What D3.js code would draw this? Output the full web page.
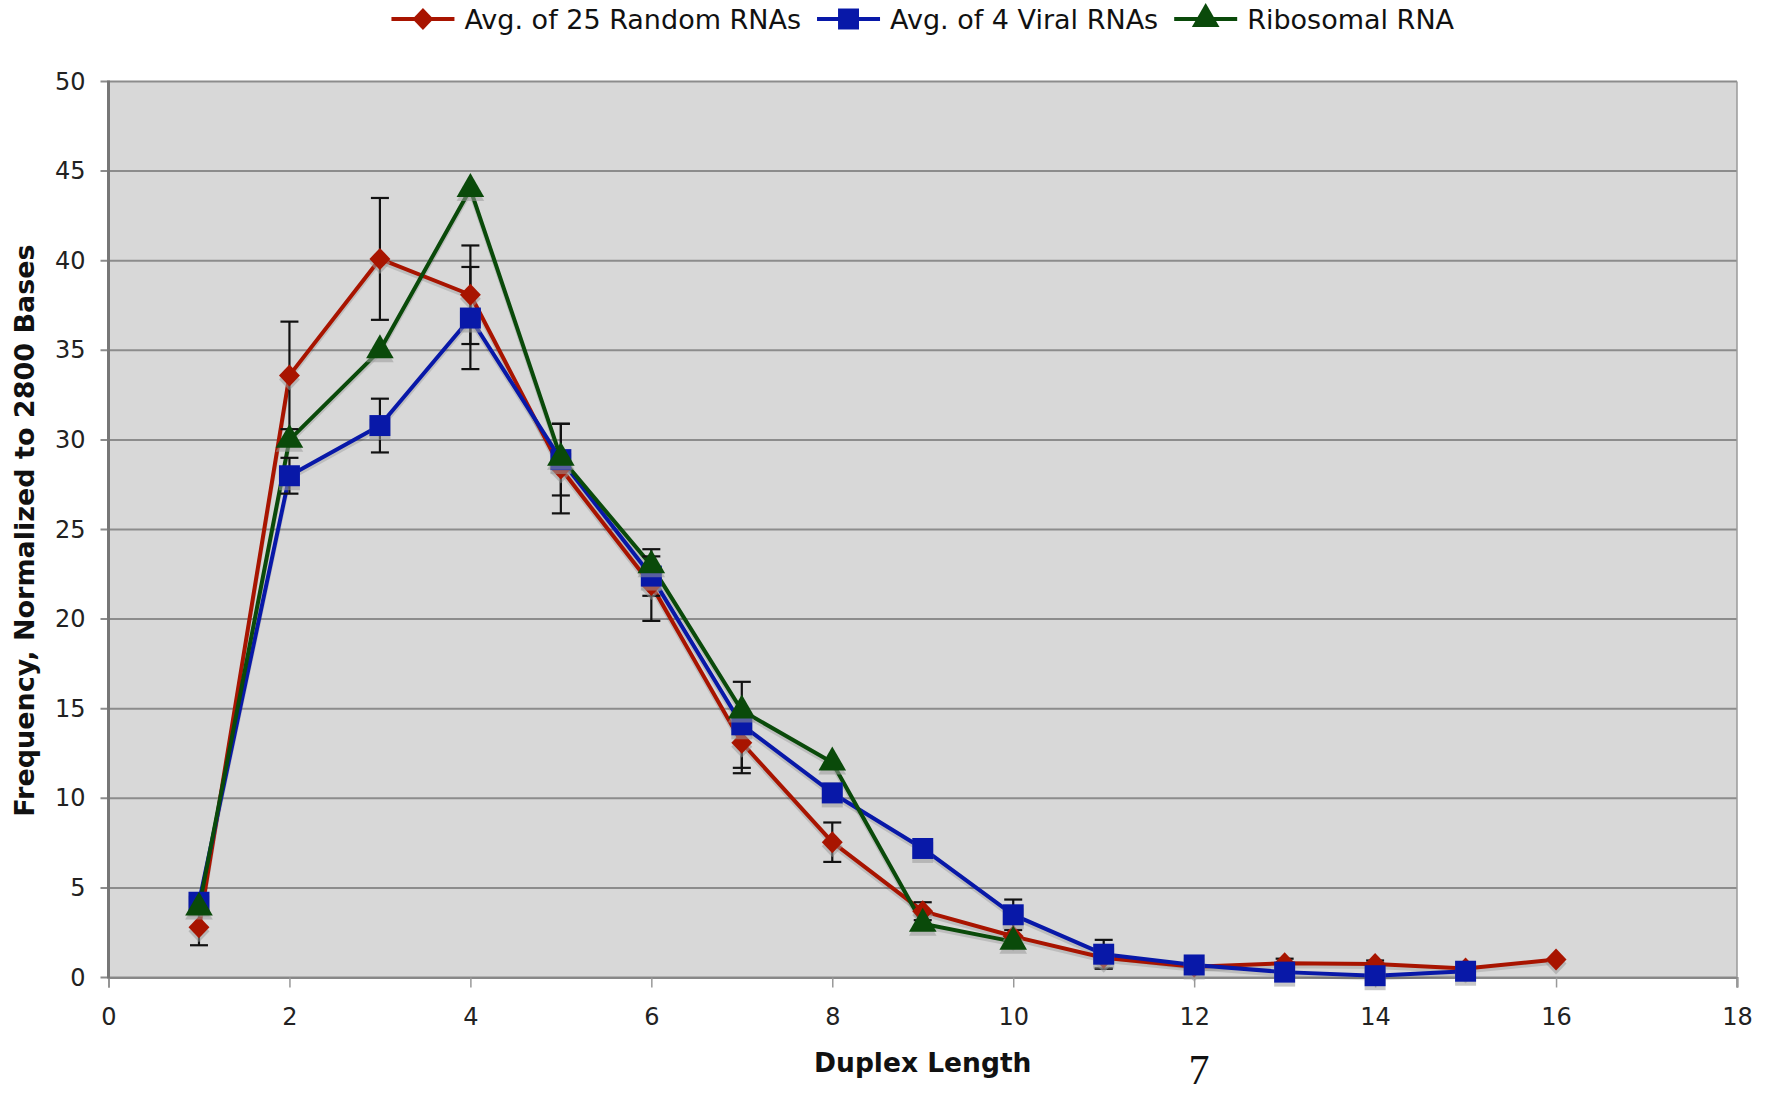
<!DOCTYPE html>
<html>
<head>
<meta charset="utf-8">
<script src="https://cdn.jsdelivr.net/npm/d3@7"></script>
<style>
  html, body { margin: 0; padding: 0; background: #ffffff; }
  svg { display: block; }
</style>
</head>
<body>
<svg id="chart" width="1770" height="1096"></svg>
<script>
// ---- Data ----
const seriesNames = ["Avg. of 25 Random RNAs", "Avg. of 4 Viral RNAs", "Ribosomal RNA"];
const randomX   = [1, 2, 3, 4, 5, 6, 7, 8, 9, 10, 11, 12, 13, 14, 15, 16];
const randomY   = [2.8, 33.6, 40.1, 38.1, 28.4, 21.9, 13.1, 7.55, 3.7, 2.3, 1.1, 0.6, 0.8, 0.75, 0.5, 1.0];
const randomErr = [1.0, 3.0, 3.4, 2.75, 2.5, 2.0, 1.7, 1.1, 0.5, 0, 0.6, 0, 0.25, 0.2, 0.15, 0];
const viralX    = [1, 2, 3, 4, 5, 6, 7, 8, 9, 10, 11, 12, 13, 14, 15];
const viralY    = [4.2, 28.0, 30.8, 36.8, 28.9, 22.4, 14.1, 10.3, 7.2, 3.5, 1.3, 0.7, 0.3, 0.1, 0.35];
const viralErr  = [0.5, 1.0, 1.5, 2.85, 2.0, 1.1, 2.4, 0.5, 0, 0.85, 0.8, 0, 0, 0, 0];
const riboX     = [1, 2, 3, 4, 5, 6, 7, 8, 9, 10];
const riboY     = [3.9, 30.0, 35.0, 44.0, 29.0, 23.0, 14.9, 12.0, 3.0, 2.0];
const xTicks    = [0, 2, 4, 6, 8, 10, 12, 14, 16, 18];
const yTicks    = [0, 5, 10, 15, 20, 25, 30, 35, 40, 45, 50];
const xTitle    = "Duplex Length";
const yTitle    = "Frequency, Normalized to 2800 Bases";
const pageNumber = "7";

const colors  = ["#a81400", "#0818a8", "#0a4a0a"];

// a near-square diamond like the reference
const wideDiamond = {
  draw(ctx, size) {
    const r = Math.sqrt(size / 2.1);
    ctx.moveTo(0, -r * 1.05);
    ctx.lineTo(r, 0);
    ctx.lineTo(0, r * 1.05);
    ctx.lineTo(-r, 0);
    ctx.closePath();
  }
};
const shapes   = [wideDiamond, d3.symbolSquare, d3.symbolTriangle];
const symSizes = [230, 440, 330];

const series = [
  { name: seriesNames[0], pts: randomX.map((x, i) => ({ x, y: randomY[i], e: randomErr[i] })) },
  { name: seriesNames[1], pts: viralX.map((x, i) => ({ x, y: viralY[i], e: viralErr[i] })) },
  { name: seriesNames[2], pts: riboX.map((x, i) => ({ x, y: riboY[i], e: 0 })) }
];

// ---- Layout ----
const L = 108.5, R = 1737, T = 81.5, B = 977.5;
const svg = d3.select("#chart");
const x = d3.scaleLinear().domain([0, 18]).range([L, R]);
const y = d3.scaleLinear().domain([0, 50]).range([B, T]);
const FONT = "'DejaVu Sans', Verdana, sans-serif";

// plot background
svg.append("rect").attr("x", L).attr("y", T).attr("width", R - L).attr("height", B - T)
  .attr("fill", "#d8d8d8");

// y axis labels
const yAxis = d3.axisLeft(y).tickValues(yTicks).tickSize(0).tickPadding(23);
const gy = svg.append("g").attr("transform", `translate(${L},0)`).call(yAxis);
gy.select(".domain").remove();
gy.selectAll("text").attr("font-family", FONT).attr("font-size", 24).attr("fill", "#222");

// gridlines
svg.append("g").selectAll("line").data(yTicks).join("line")
  .attr("x1", L - 8).attr("x2", R)
  .attr("y1", d => y(d)).attr("y2", d => y(d))
  .attr("stroke", "#8c8c8c").attr("stroke-width", 2);

// right border
svg.append("line").attr("x1", R).attr("x2", R).attr("y1", T).attr("y2", B + 10)
  .attr("stroke", "#9a9a9a").attr("stroke-width", 1.5);

// x axis
const xAxis = d3.axisBottom(x).tickValues(xTicks).tickSize(10).tickPadding(20);
const gx = svg.append("g").attr("transform", `translate(0,${B})`).call(xAxis);
gx.select(".domain").attr("stroke", "#888").attr("stroke-width", 2);
gx.selectAll(".tick line").attr("stroke", "#999").attr("stroke-width", 1.5);
gx.selectAll("text").attr("font-family", FONT).attr("font-size", 24).attr("fill", "#222");

// left axis line
svg.append("line").attr("x1", L).attr("x2", L).attr("y1", T - 1).attr("y2", B + 1)
  .attr("stroke", "#777").attr("stroke-width", 3);

// ---- series lines ----
const line = d3.line().x(d => x(d.x)).y(d => y(d.y));
const gLines = svg.append("g");
series.forEach((s, i) => {
  gLines.append("path").datum(s.pts).attr("d", line)
    .attr("fill", "none").attr("stroke", "#000").attr("stroke-opacity", 0.12)
    .attr("stroke-width", 4).attr("transform", "translate(0,3)");
});
series.forEach((s, i) => {
  gLines.append("path").datum(s.pts).attr("d", line)
    .attr("fill", "none").attr("stroke", colors[i]).attr("stroke-width", 4)
    .attr("stroke-linejoin", "round");
});

// ---- error bars ----
const gErr = svg.append("g").attr("stroke", "#111").attr("stroke-width", 2.2);
series.forEach(s => {
  s.pts.filter(d => d.e > 0).forEach(d => {
    const cx = x(d.x), y1 = y(d.y + d.e), y2 = y(d.y - d.e);
    gErr.append("line").attr("x1", cx).attr("x2", cx).attr("y1", y1).attr("y2", y2);
    gErr.append("line").attr("x1", cx - 9).attr("x2", cx + 9).attr("y1", y1).attr("y2", y1);
    gErr.append("line").attr("x1", cx - 9).attr("x2", cx + 9).attr("y1", y2).attr("y2", y2);
  });
});

// ---- markers ----
const gMk = svg.append("g");
series.forEach((s, i) => {
  const sym = d3.symbol().type(shapes[i]).size(symSizes[i]);
  gMk.selectAll(null).data(s.pts).join("path")
    .attr("d", sym).attr("fill", "#9a9a9a").attr("fill-opacity", 0.55)
    .attr("transform", d => `translate(${x(d.x)},${y(d.y) + 4})`);
  gMk.selectAll(null).data(s.pts).join("path")
    .attr("d", sym).attr("fill", colors[i])
    .attr("transform", d => `translate(${x(d.x)},${y(d.y)})`);
});

// ---- axis titles ----
svg.append("text").text(xTitle)
  .attr("x", (L + R) / 2).attr("y", 1072).attr("text-anchor", "middle")
  .attr("font-family", FONT).attr("font-weight", "bold").attr("font-size", 26.5).attr("fill", "#111");
svg.append("text").text(yTitle)
  .attr("transform", `translate(34,${(246 + 815) / 2}) rotate(-90)`).attr("text-anchor", "middle")
  .attr("font-family", FONT).attr("font-weight", "bold").attr("font-size", 27).attr("fill", "#111");

// ---- legend ----
const gLeg = svg.append("g");
const items = [];
series.forEach((s, i) => {
  const g = gLeg.append("g");
  g.append("line").attr("x1", 0).attr("x2", 63).attr("y1", 0).attr("y2", 0)
    .attr("stroke", colors[i]).attr("stroke-width", 4);
  g.append("path").attr("d", d3.symbol().type(shapes[i]).size(symSizes[i])())
    .attr("fill", colors[i]).attr("transform", "translate(31.5,0)");
  const t = g.append("text").text(s.name).attr("x", 73).attr("y", 9.5)
    .attr("font-family", FONT).attr("font-size", 27).attr("fill", "#111");
  const w = 73 + t.node().getComputedTextLength();
  items.push({ g, w });
});
const gap = 16;
const total = d3.sum(items, d => d.w) + gap * (items.length - 1);
let start = (L + R) / 2 - total / 2;
items.forEach(it => {
  it.g.attr("transform", `translate(${start},19)`);
  start += it.w + gap;
});

// page number
svg.append("text").text(pageNumber)
  .attr("x", 1199).attr("y", 1084).attr("text-anchor", "middle")
  .attr("font-family", "'Liberation Serif', 'Times New Roman', serif").attr("font-size", 42)
  .attr("fill", "#111");
</script>
</body>
</html>
